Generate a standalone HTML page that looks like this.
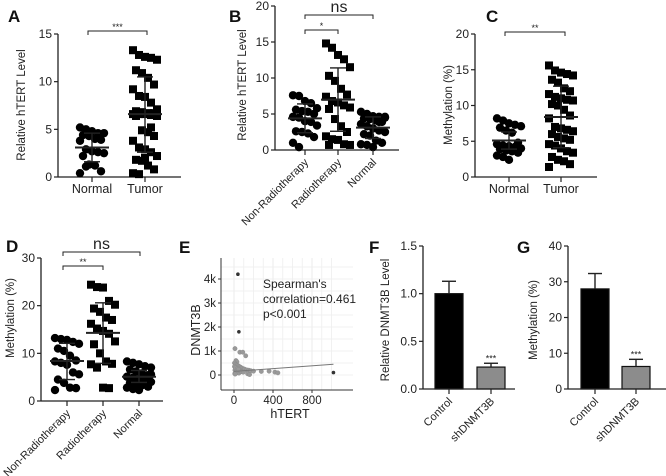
<!DOCTYPE html>
<html><head><meta charset="utf-8">
<style>
html,body{margin:0;padding:0;background:#fff;}
svg{display:block;font-family:"Liberation Sans",Arial,sans-serif;}
</style></head>
<body>
<svg id="fig" width="666" height="476" viewBox="0 0 666 476" xmlns="http://www.w3.org/2000/svg"></svg>
<script>
// ---- data ----
const aNormal=[5.2,5.0,4.8,4.6,4.6,4.4,4.3,4.0,3.9,3.8,2.9,2.7,2.6,2.5,2.2,1.3,1.2,0.6,0.4,1.1];
const aTumor=[13.3,12.8,12.6,12.5,12.3,11.2,10.9,10.4,9.7,9.2,8.5,8.4,7.8,7.1,6.9,6.8,6.7,6.7,6.6,6.6,6.6,6.5,6.4,6.4,4.9,4.7,4.3,3.8,3.1,2.9,2.6,2.2,1.8,1.7,1.2,0.8,0.4,0.3,2.0,5.2];
const aStats=[[3.1,1.6,4.6],[6.6,2.6,10.5]];
const bNonRad=[7.6,7.5,6.8,6.5,5.8,5.6,5.4,5.3,5.0,4.6,4.5,4.0,3.9,3.4,2.6,2.5,2.3,1.8,1.0,0.4];
const bRad=[14.8,14.2,13.2,12.6,11.5,10.3,9.6,8.5,7.7,7.4,6.8,6.6,6.2,5.9,5.7,4.3,3.3,2.5,1.9,1.5,1.4,0.8,0.7,0.7];
const bNormal=[5.3,5.0,4.7,4.6,4.5,4.4,4.3,4.1,3.9,3.6,3.3,3.0,2.7,2.5,2.2,2.0,1.3,1.0,0.8,0.7,0.4,3.9,4.6];
const bStats=[[4.4,2.4,6.4],[7.0,2.6,11.4],[3.1,1.6,4.6]];
const cNormal=[8.2,7.9,7.5,7.3,7.1,6.9,6.5,6.2,4.8,4.6,4.4,4.3,4.2,4.0,3.9,3.7,3.6,3.4,3.0,2.8,2.4];
const cTumor=[15.6,14.9,14.6,14.4,14.2,13.6,13.2,12.4,12.0,11.6,11.2,11.0,10.8,10.7,10.2,10.0,9.4,8.6,8.2,7.0,6.8,6.6,6.4,6.0,5.6,5.4,5.2,4.6,4.4,4.0,3.6,3.4,2.8,2.4,2.2,1.8,1.4];
const cStats=[[5.1,3.9,6.3],[8.4,4.1,12.7]];
const dNonRad=[13.2,13.0,12.8,12.4,12.0,11.0,10.5,9.5,8.5,8.3,8.0,7.6,6.0,5.6,4.5,3.8,2.8,2.7,2.3];
const dRad=[24.4,23.9,23.8,21.0,20.2,19.4,18.7,17.5,17.0,16.2,15.2,14.7,14.1,12.5,11.9,10.0,8.3,7.8,7.7,7.0,2.8,2.7];
const dNormal=[8.3,8.0,7.7,7.3,7.0,6.6,6.2,5.8,5.4,5.1,4.9,4.6,4.3,4.0,3.8,3.6,3.3,3.0,2.8,2.5,2.3,4.4,5.6];
const dStats=[[8.4,4.5,12.1],[14.3,7.9,20.6],[5.1,3.9,6.4]];
const eX=[40,50,1020,10,60,90,120,20,30,5,15,25,35,45,55,65,75,85,100,110,130,150,170,200,280,360,420,450,10,20,30,40,50,8,12,18,22,28,60,70,80,95,140,160,5,15,35,45];
const eY=[4200,1800,100,1100,950,950,800,600,550,500,450,420,400,380,350,330,300,280,250,240,210,200,180,160,150,160,120,90,200,150,120,100,80,60,40,300,250,200,180,150,140,120,50,20,350,300,260,230];
const eLine=[[0,150],[1020,450]];
const eXTicks=[0,400,800];
const eYTicks=[0,1000,2000,3000,4000];
const eYLabels=["0","1k","2k","3k","4k"];
const fCats=["Control","shDNMT3B"];
const fVals=[1.0,0.23];
const fErr=[0.13,0.04];
const gVals=[28,6.3];
const gErr=[4.3,2.0];

// ---- helpers ----
const svg=document.getElementById('fig');
const NS='http://www.w3.org/2000/svg';
function mk(tag,attrs,parent,text){const e=document.createElementNS(NS,tag);for(const k in attrs)e.setAttribute(k,attrs[k]);if(text!==undefined)e.textContent=text;(parent||svg).appendChild(e);return e;}
function grp(name){const g=document.createElementNS(NS,'g');


svg.appendChild(g);return g;}
function lin(v0,v1,p0,p1){return v=>p0+(v-v0)/(v1-v0)*(p1-p0);}

function axesY(g,ax,yTop,yBot,x1,ticks,labels,ys,fs){
  mk('line',{x1:ax,y1:yTop,x2:ax,y2:yBot,stroke:'#222','stroke-width':1.3},g);
  mk('line',{x1:ax,y1:yBot,x2:x1,y2:yBot,stroke:'#222','stroke-width':1.3},g);
  ticks.forEach((t,i)=>{const y=ys(t);
    mk('line',{x1:ax-4,y1:y,x2:ax,y2:y,stroke:'#222','stroke-width':1.2},g);
    const tl=mk('text',{x:ax-6,y:y+4,'text-anchor':'end','font-size':fs||12,fill:'#222'},g,labels[i]);
    
    
  });
}
function ytitle(g,x,y,txt,fs){const t=mk('text',{x:x,y:y,transform:`rotate(-90 ${x} ${y})`,'text-anchor':'middle','font-size':fs||12,fill:'#222'},g,txt);

}
function letter(x,y,t){const e=mk('text',{x:x,y:y,'font-size':17,'font-weight':'bold',fill:'#111'},svg,t);

}
function xcat(g,x,y,txt,rot){let e;
  if(rot){e=mk('text',{x:x+4,y:y+13,transform:`rotate(-45 ${x+4} ${y+13})`,'text-anchor':'end','font-size':11,fill:'#222'},g,txt);}
  else{e=mk('text',{x:x,y:y+16,'text-anchor':'middle','font-size':12.5,fill:'#222'},g,txt);}
  
  }
function bracket(g,x0,x1,y,txt,fs){
  mk('path',{d:`M${x0} ${y+4}V${y}H${x1}V${y+4}`,fill:'none',stroke:'#222','stroke-width':1},g);
  const t=mk('text',{x:(x0+x1)/2,y:fs>12?y-3:y-1,'text-anchor':'middle','font-size':fs||9,fill:'#222'},g,txt);
  
  
}
function dots(g,cx,vals,ys,shape,stats,base){
  vals.forEach((v,i)=>{
    const off=[-12,-6,0,6,12,-9,-3,3,9][i%9];
    const y=ys(v);let m;
    if(shape==='c'){m=mk('circle',{cx:cx+off,cy:y,r:4.2,fill:'#000'},g);}
    else{m=mk('rect',{x:cx+off-4,y:y-4,width:8,height:8,fill:'#000'},g);}
    
    
  });
  const [mn,lo,hi]=stats;
  mk('line',{x1:cx,y1:ys(lo),x2:cx,y2:ys(hi),stroke:'#222','stroke-width':1.4},g);
  const ml=mk('line',{x1:cx-17,y1:ys(mn),x2:cx+17,y2:ys(mn),stroke:'#222','stroke-width':2},g);
  
  
  mk('line',{x1:cx-8,y1:ys(lo),x2:cx+8,y2:ys(lo),stroke:'#222','stroke-width':1.4},g);
  mk('line',{x1:cx-8,y1:ys(hi),x2:cx+8,y2:ys(hi),stroke:'#222','stroke-width':1.4},g);
  mk('line',{x1:cx,y1:base,x2:cx,y2:base+5,stroke:'#222','stroke-width':1.2},g);
}

// ---- Panel A ----
(function(){const g=grp('panel-a');const ys=lin(0,15,177,34);
 axesY(g,58,34,177,181,[0,5,10,15],["0","5","10","15"],ys);
 ytitle(g,25,105,'Relative hTERT Level',11.5);
 dots(g,92,aNormal,ys,'c',aStats[0],177);dots(g,145,aTumor,ys,'s',aStats[1],177);
 xcat(g,92,177,'Normal');xcat(g,145,177,'Tumor');
 bracket(g,88,147,31,'***',9);
 letter(8,22,'A');})();

// ---- Panel B ----
(function(){const g=grp('panel-b');const ys=lin(0,20,150,6);
 axesY(g,275,6,150,399,[0,5,10,15,20],["0","5","10","15","20"],ys);
 ytitle(g,246,85,'Relative hTERT Level',11.5);
 dots(g,305,bNonRad,ys,'c',bStats[0],150);dots(g,338,bRad,ys,'s',bStats[1],150);dots(g,373,bNormal,ys,'c',bStats[2],150);
 xcat(g,305,150,'Non-Radiotherapy',1);xcat(g,338,150,'Radiotherapy',1);xcat(g,373,150,'Normal',1);
 bracket(g,305,373,15,'ns',16);bracket(g,305,338,30,'*',9);
 letter(229,22,'B');})();

// ---- Panel C ----
(function(){const g=grp('panel-c');const ys=lin(0,20,177,34);
 axesY(g,475,34,177,597,[0,5,10,15,20],["0","5","10","15","20"],ys);
 ytitle(g,452,105,'Methylation (%)',11.5);
 dots(g,509,cNormal,ys,'c',cStats[0],177);dots(g,561,cTumor,ys,'s',cStats[1],177);
 xcat(g,509,177,'Normal');xcat(g,561,177,'Tumor');
 bracket(g,505,565,32,'**',9);
 letter(486,22,'C');})();

// ---- Panel D ----
(function(){const g=grp('panel-d');const ys=lin(0,30,401,258);
 axesY(g,41,258,401,163,[0,10,20,30],["0","10","20","30"],ys);
 ytitle(g,14,318,'Methylation (%)',11.5);
 dots(g,67,dNonRad,ys,'c',dStats[0],401);dots(g,103,dRad,ys,'s',dStats[1],401);dots(g,139,dNormal,ys,'c',dStats[2],401);
 xcat(g,67,401,'Non-Radiotherapy',1);xcat(g,103,401,'Radiotherapy',1);xcat(g,139,401,'Normal',1);
 bracket(g,63,140,252,'ns',16);bracket(g,63,103,266,'**',9);
 letter(6,252,'D');})();

// ---- Panel E ----
(function(){const g=grp('panel-e');const xs=lin(0,400,234,273);const ys=lin(0,1000,375,351);
 [100,200,300,500,600,700,900,1000].forEach(v=>mk('line',{x1:xs(v),y1:258,x2:xs(v),y2:390,stroke:'#eee','stroke-width':0.8},g));
 eXTicks.forEach(v=>mk('line',{x1:xs(v),y1:258,x2:xs(v),y2:390,stroke:'#e6e6e6','stroke-width':0.8},g));
 [500,1500,2500,3500,4500].concat(eYTicks).forEach(v=>mk('line',{x1:221,y1:ys(v),x2:353,y2:ys(v),stroke:'#eee','stroke-width':0.8},g));
 mk('line',{x1:221,y1:258,x2:221,y2:390,stroke:'#333','stroke-width':1},g);
 mk('line',{x1:221,y1:390,x2:353,y2:390,stroke:'#333','stroke-width':1},g);
 eYTicks.forEach((v,i)=>{mk('line',{x1:218,y1:ys(v),x2:221,y2:ys(v),stroke:'#333'},g);
  const t=mk('text',{x:216,y:ys(v)+4,'text-anchor':'end','font-size':11.5,fill:'#222'},g,eYLabels[i]);
  
  });
 eXTicks.forEach(v=>{mk('line',{x1:xs(v),y1:390,x2:xs(v),y2:393,stroke:'#333'},g);
  const t=mk('text',{x:xs(v),y:404,'text-anchor':'middle','font-size':11.5,fill:'#222'},g,String(v));
  
  });
 eX.forEach((x,i)=>{const big=eY[i]>1500||x>900;const c=mk('circle',{cx:xs(x),cy:ys(eY[i]),r:big?1.8:2.2,fill:big?'#333':'#999',stroke:big?'none':'#888','stroke-width':0.4},g);
  
  });
 const rl=mk('line',{x1:xs(eLine[0][0]),y1:ys(eLine[0][1]),x2:xs(eLine[1][0]),y2:ys(eLine[1][1]),stroke:'#777','stroke-width':1},g);
 
 
 const ann=mk('text',{'font-size':12,fill:'#222'},g);
 
 
 mk('tspan',{x:263,y:288},ann,"Spearman's");mk('tspan',{x:263,y:303},ann,'correlation=0.461');mk('tspan',{x:263,y:318},ann,'p<0.001');
 ytitle(g,200,330,'DNMT3B',12.5);
 const xt=mk('text',{x:290,y:418,'text-anchor':'middle','font-size':12.5,fill:'#222'},g,'hTERT');
 
 
 letter(179,253,'E');})();

// ---- Bar panels ----
function barPanel(name,ax,x1,yTop,yBot,vmax,ticks,labels,vals,errs,cx,title,tx){
 const g=grp(name);const ys=lin(0,vmax,yBot,yTop);
 vals.forEach((v,i)=>{const r=mk('rect',{x:cx[i]-14,y:ys(v),width:28,height:yBot-ys(v),fill:i?'#8c8c8c':'#000',stroke:'#111','stroke-width':1.2},g);
  
  
  mk('line',{x1:cx[i],y1:ys(v),x2:cx[i],y2:ys(v+errs[i]),stroke:'#222','stroke-width':1.4},g);
  mk('line',{x1:cx[i]-7,y1:ys(v+errs[i]),x2:cx[i]+7,y2:ys(v+errs[i]),stroke:'#222','stroke-width':1.4},g);
  mk('line',{x1:cx[i],y1:yBot,x2:cx[i],y2:yBot+5,stroke:'#222','stroke-width':1.2},g);
  xcat(g,cx[i],yBot,fCats[i],1);});
 const st=mk('text',{x:cx[1],y:ys(vals[1]+errs[1])-2,'text-anchor':'middle','font-size':9,fill:'#222'},g,'***');
 
 
 axesY(g,ax,yTop,yBot,x1,ticks,labels,ys);
 ytitle(g,tx,320,title,11.5);
}
barPanel('panel-f',423,515,246,389,1.5,[0,0.5,1,1.5],["0.0","0.5","1.0","1.5"],fVals,fErr,[449,491],'Relative DNMT3B Level',389);
letter(369,253,'F');
barPanel('panel-g',568,666,246,389,40,[0,10,20,30,40],["0","10","20","30","40"],gVals,gErr,[595,636],'Methylation (%)',537);
letter(517,253,'G');
</script>
</body></html>
